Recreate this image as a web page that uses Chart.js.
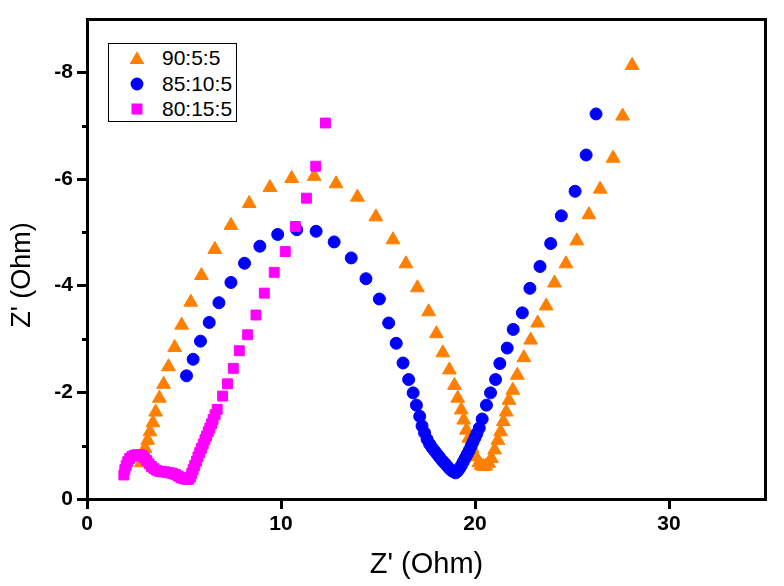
<!DOCTYPE html>
<html>
<head>
<meta charset="utf-8">
<title>Nyquist plot</title>
<script src="https://cdn.jsdelivr.net/npm/chart.js@4.4.1/dist/chart.umd.min.js"></script>
<style>
body { margin: 0; background: #fff; }
#wrap { position: relative; width: 784px; height: 586px; }
#legend { position: absolute; left: 108px; top: 43px; width: 127px; height: 77px; border: 1px solid #000; background: #fff;
          font-family: "Liberation Sans", Arial, sans-serif; font-size: 21px; color: #000; }
.item { position: absolute; left: 0; width: 127px; height: 26px; line-height: 26px; }
.item svg { position: absolute; left: 20px; top: 5px; }
.item span { position: absolute; left: 53px; white-space: nowrap; }
</style>
</head>
<body>
<div id="wrap">
    <canvas id="chart" width="784" height="586"></canvas>
    <div id="legend"></div>
</div>
<script>
// series names / colours / shapes
const names = ['90:5:5', '85:10:5', '80:15:5'];
const colors = ['#FF8000', '#0000FF', '#FF00FF'];
const shapes = ['triangle', 'circle', 'rect'];

// Z' (x) and Z'' (y) in Ohm
const re90 = [2.80, 2.88, 2.99, 3.13, 3.25, 3.40, 3.54, 3.73, 3.95, 4.20, 4.52, 4.88, 5.35, 5.90, 6.59, 7.42, 8.36, 9.43, 10.55, 11.71,
    12.84, 13.94, 14.89, 15.77, 16.44, 17.03, 17.61, 18.01, 18.34, 18.68, 18.94, 19.11, 19.29, 19.42, 19.56, 19.68, 19.85, 20.03, 20.20, 20.32,
    20.44, 20.56, 20.70, 20.85, 21.01, 21.18, 21.32, 21.46, 21.61, 21.75, 21.95, 22.18, 22.52, 22.87, 23.23, 23.67, 24.10, 24.69, 25.25, 25.87,
    26.45, 27.12, 27.61, 28.10];
const im90 = [-0.68, -0.80, -0.95, -1.10, -1.26, -1.43, -1.63, -1.89, -2.15, -2.48, -2.84, -3.26, -3.69, -4.19, -4.68, -5.13, -5.54, -5.84, -6.01, -6.05,
    -5.91, -5.66, -5.29, -4.86, -4.41, -3.96, -3.51, -3.10, -2.74, -2.42, -2.13, -1.89, -1.67, -1.48, -1.29, -1.14, -0.95, -0.79, -0.68, -0.63,
    -0.61, -0.62, -0.67, -0.76, -0.92, -1.10, -1.26, -1.45, -1.63, -1.85, -2.04, -2.32, -2.65, -2.98, -3.30, -3.62, -4.05, -4.41, -4.84, -5.33,
    -5.81, -6.39, -7.18, -8.13];

const re85 = [5.13, 5.47, 5.85, 6.30, 6.80, 7.42, 8.12, 8.91, 9.83, 10.81, 11.81, 12.74, 13.62, 14.38, 15.07, 15.55, 15.94, 16.29, 16.58, 16.81,
    16.98, 17.15, 17.27, 17.40, 17.53, 17.66, 17.79, 17.92, 18.05, 18.18, 18.31, 18.44, 18.56, 18.68, 18.80, 18.90, 19.00,
    19.10, 19.20, 19.30, 19.40, 19.50, 19.60, 19.70, 19.80, 19.90, 20.00, 20.10, 20.22, 20.37, 20.59, 20.80, 21.06, 21.28, 21.66, 21.97,
    22.44, 22.83, 23.35, 23.90, 24.45, 25.16, 25.73, 26.24];
const im85 = [-2.31, -2.62, -2.96, -3.31, -3.68, -4.06, -4.42, -4.74, -4.96, -5.05, -5.02, -4.82, -4.52, -4.13, -3.75, -3.30, -2.92, -2.55, -2.24, -1.99,
    -1.76, -1.55, -1.37, -1.24, -1.12, -1.03, -0.96, -0.90, -0.84, -0.78, -0.72, -0.67, -0.62, -0.57, -0.53, -0.51, -0.49,
    -0.52, -0.57, -0.63, -0.70, -0.77, -0.84, -0.91, -0.99, -1.07, -1.15, -1.23, -1.33, -1.50, -1.76, -1.99, -2.24, -2.54, -2.83, -3.18,
    -3.49, -3.95, -4.36, -4.79, -5.31, -5.77, -6.45, -7.22];

const re80 = [1.90, 1.95, 2.02, 2.10, 2.20, 2.32, 2.45, 2.58, 2.71, 2.84, 2.96, 3.08, 3.20, 3.32, 3.45, 3.58, 3.72, 3.86, 4.00, 4.14,
    4.28, 4.42, 4.56, 4.70, 4.84, 4.98, 5.12, 5.24, 5.33, 5.40, 5.47, 5.55, 5.64, 5.72, 5.81, 5.90, 5.99, 6.08, 6.16, 6.25,
    6.33, 6.42, 6.50, 6.60, 6.71, 6.99, 7.24, 7.54, 7.85, 8.28, 8.71, 9.14, 9.65, 10.22, 10.74, 11.31, 11.79, 12.29];
const im80 = [-0.45, -0.55, -0.63, -0.70, -0.76, -0.80, -0.82, -0.83, -0.83, -0.81, -0.77, -0.72, -0.66, -0.61, -0.57, -0.54, -0.52, -0.51, -0.51, -0.50,
    -0.49, -0.48, -0.46, -0.43, -0.40, -0.38, -0.37, -0.37, -0.41, -0.48, -0.55, -0.63, -0.71, -0.79, -0.87, -0.95, -1.03, -1.11, -1.18, -1.26,
    -1.33, -1.41, -1.49, -1.58, -1.68, -1.93, -2.16, -2.45, -2.78, -3.08, -3.45, -3.86, -4.25, -4.64, -5.11, -5.64, -6.24, -7.05];

// axis ticks
const xTickStep = 10;
const yTickStep = 2;
const yMinorTicks = [-7, -5, -3, -1];

const FONT = '"Liberation Sans", Arial, sans-serif';
Chart.defaults.font.family = FONT;
Chart.defaults.color = '#000';

function toPoints(xs, ys) {
    return xs.map((x, i) => ({ x: x, y: ys[i] }));
}

// top/right frame lines, minor y ticks and the y title
const framePlugin = {
    id: 'frame',
    afterDraw(chart) {
        const ctx = chart.ctx;
        const a = chart.chartArea;
        const y = chart.scales.y;
        ctx.save();
        ctx.strokeStyle = '#000';
        ctx.lineWidth = 3;
        ctx.lineCap = 'square';
        ctx.beginPath();
        ctx.moveTo(a.left + 0.5, a.top + 0.5);
        ctx.lineTo(a.right - 0.5, a.top + 0.5);
        ctx.lineTo(a.right - 0.5, a.bottom + 0.5);
        ctx.stroke();
        ctx.lineCap = 'butt';
        yMinorTicks.forEach(v => {
            const py = Math.round(y.getPixelForValue(v)) + 0.5;
            ctx.beginPath();
            ctx.moveTo(a.left - 5, py);
            ctx.lineTo(a.left, py);
            ctx.stroke();
        });
        ctx.translate(22.5, 275);
        ctx.rotate(-Math.PI / 2);
        ctx.font = '27px ' + FONT;
        ctx.fillStyle = '#000';
        ctx.textAlign = 'center';
        ctx.textBaseline = 'middle';
        ctx.fillText("Z' (Ohm)", 0, 0);
        ctx.restore();
    }
};

const axisGrid = { drawOnChartArea: false, drawTicks: true, tickLength: 10, tickWidth: 3, tickColor: '#000' };
const axisBorder = { display: true, color: '#000', width: 3 };

new Chart(document.getElementById('chart'), {
    type: 'scatter',
    data: {
        datasets: [
            { label: names[0], data: toPoints(re90, im90), pointStyle: shapes[0], pointRadius: 8, borderWidth: 1,
              backgroundColor: colors[0], borderColor: colors[0], order: 3 },
            { label: names[1], data: toPoints(re85, im85), pointStyle: shapes[1], pointRadius: 6, borderWidth: 1,
              backgroundColor: colors[1], borderColor: colors[1], order: 2 },
            { label: names[2], data: toPoints(re80, im80), pointStyle: shapes[2], pointRadius: 7, borderWidth: 1,
              backgroundColor: colors[2], borderColor: colors[2], order: 1 }
        ]
    },
    options: {
        responsive: false,
        animation: false,
        events: [],
        layout: { padding: { top: 19, right: 18, bottom: 0, left: 0 } },
        plugins: { legend: { display: false }, tooltip: { enabled: false } },
        scales: {
            x: {
                type: 'linear', min: 0, max: 35,
                ticks: { stepSize: xTickStep, includeBounds: false, padding: 3, color: '#000', font: { size: 21, weight: 'bold' } },
                grid: axisGrid, border: axisBorder,
                title: { display: true, text: "Z' (Ohm)", color: '#000', font: { size: 29 }, padding: { top: 0, bottom: 4 } },
                afterFit: function(scale) { scale.height = 87; }
            },
            y: {
                type: 'linear', min: -9, max: 0, reverse: true,
                ticks: { stepSize: yTickStep, includeBounds: false, padding: 4, color: '#000', font: { size: 21, weight: 'bold' } },
                grid: axisGrid, border: axisBorder,
                afterFit: function(scale) { scale.width = 87; }
            }
        }
    },
    plugins: [framePlugin]
});

// legend box
const svgShapes = {
    triangle: c => `<polygon points="0.6,14 8,1.2 15.4,14" fill="${c}"/>`,
    circle: c => `<circle cx="8" cy="8" r="6.4" fill="${c}"/>`,
    rect: c => `<rect x="2.5" y="2.5" width="11" height="11" fill="${c}"/>`
};
const legend = document.getElementById('legend');
const rowTops = [0.5, 27, 52];
names.forEach((name, i) => {
    const row = `
        <div class="item" style="top:${rowTops[i]}px">
            <svg width="16" height="16">${svgShapes[shapes[i]](colors[i])}</svg>
            <span>${name}</span>
        </div>`;
    legend.insertAdjacentHTML('beforeend', row);
});
</script>
</body>
</html>
